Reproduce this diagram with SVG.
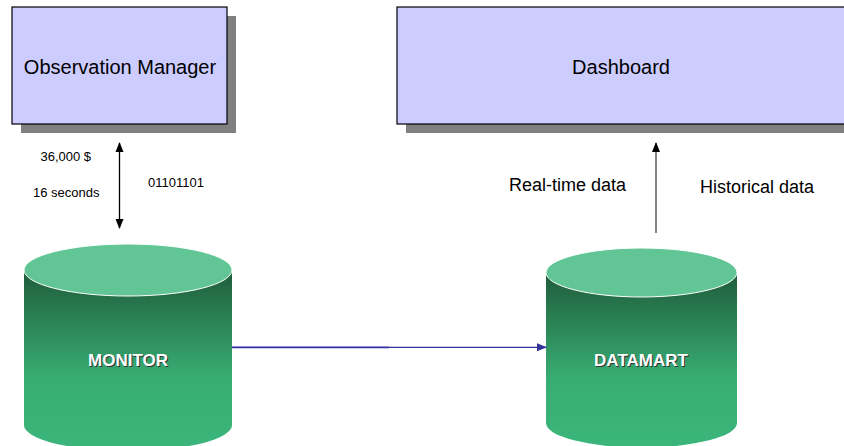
<svg xmlns="http://www.w3.org/2000/svg" width="844" height="446" viewBox="0 0 844 446">
<style>
  .box { fill: #ccccff; stroke: #000; stroke-width: 1.2; }
  .shadow { fill: #808080; }
  .boxtxt { font-family: "Liberation Sans", Arial, sans-serif; font-size: 20px; fill: #000; text-anchor: middle; }
  .lbl { font-family: "Liberation Sans", Arial, sans-serif; font-size: 13px; fill: #000; }
  .lbl18 { font-family: "Liberation Sans", Arial, sans-serif; font-size: 18px; fill: #000; }
  .cyltop { fill: #62c596; stroke: #ffffff; stroke-width: 1; }
  .cyltxt { font-family: "Liberation Sans", Arial, sans-serif; font-size: 17px; font-weight: bold; text-anchor: middle; }
</style>
<defs>
  <linearGradient id="cylgrad" x1="0" y1="0" x2="0" y2="1">
    <stop offset="0" stop-color="#1f5c3a"/>
    <stop offset="0.6" stop-color="#38ad73"/>
    <stop offset="1" stop-color="#3bb67a"/>
  </linearGradient>
  <marker id="ahBlack" markerWidth="10" markerHeight="10" refX="9" refY="5" orient="auto-start-reverse" markerUnits="userSpaceOnUse">
    <path d="M0,1 L10,5 L0,9 Z" fill="#000"/>
  </marker>
  <marker id="ahBlue" markerWidth="10" markerHeight="10" refX="9" refY="5" orient="auto" markerUnits="userSpaceOnUse">
    <path d="M0,1 L10,5 L0,9 Z" fill="#333399"/>
  </marker>
</defs>
<rect width="844" height="446" fill="#ffffff"/>

<g id="observation-manager">
  <rect class="shadow" x="21" y="16" width="215" height="117"/>
  <rect class="box" x="12" y="7" width="215" height="117"/>
  <text class="boxtxt" x="120" y="74">Observation Manager</text>
</g>

<g id="dashboard">
  <rect class="shadow" x="406" y="16" width="450" height="117"/>
  <rect class="box" x="397" y="7" width="460" height="117"/>
  <text class="boxtxt" x="621" y="74">Dashboard</text>
</g>

<g id="monitor">
  <path d="M24,270 L24,425 A104,26 0 0 0 232,425 L232,270 Z" fill="url(#cylgrad)"/>
  <ellipse class="cyltop" cx="128" cy="270" rx="104" ry="26"/>
  <text class="cyltxt" x="129" y="367" fill="#333333">MONITOR</text>
  <text class="cyltxt" x="128" y="366" fill="#ffffff">MONITOR</text>
</g>

<g id="datamart">
  <path d="M546,272.5 L546,423 A95.5,24.5 0 0 0 737,423 L737,272.5 Z" fill="url(#cylgrad)"/>
  <ellipse class="cyltop" cx="641.5" cy="272.5" rx="95.5" ry="24.5"/>
  <text class="cyltxt" x="642" y="367" fill="#333333">DATAMART</text>
  <text class="cyltxt" x="641" y="366" fill="#ffffff">DATAMART</text>
</g>

<g id="connectors">
  <line x1="119.5" y1="143" x2="119.5" y2="228" stroke="#000" stroke-width="1.3" marker-start="url(#ahBlack)" marker-end="url(#ahBlack)"/>
  <line x1="656" y1="233" x2="656" y2="143" stroke="#333333" stroke-width="1.2" marker-end="url(#ahBlack)"/>
  <line x1="232" y1="347.3" x2="389" y2="347.3" stroke="#9999dd" stroke-width="2.2"/>
  <line x1="232" y1="347.3" x2="546" y2="347.3" stroke="#333399" stroke-width="1.2" marker-end="url(#ahBlue)"/>
</g>

<g id="labels">
  <text class="lbl" x="40.5" y="161">36,000 $</text>
  <text class="lbl" x="33" y="197">16 seconds</text>
  <text class="lbl" x="148" y="187">01101101</text>
  <text class="lbl18" x="509" y="191">Real-time data</text>
  <text class="lbl18" x="700" y="193">Historical data</text>
</g>
</svg>
